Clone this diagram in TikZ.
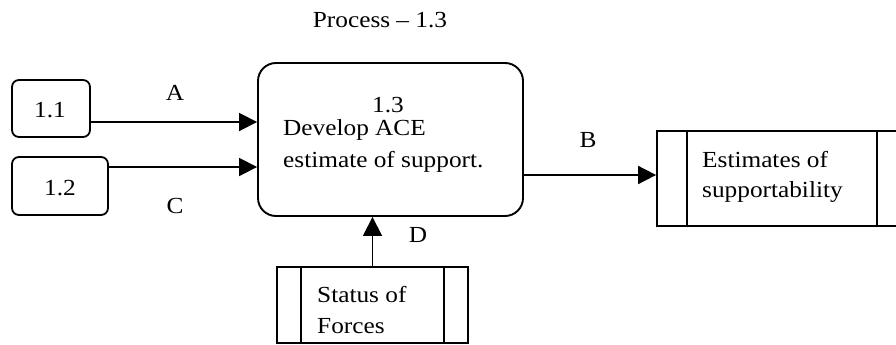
\documentclass[tikz,border=0pt]{standalone}
\usepackage{fontspec}
\setmainfont[FakeStretch=1.1]{Liberation Serif}
\usetikzlibrary{arrows.meta}
\begin{document}
\begin{tikzpicture}[x=1pt,y=-1pt,
  every node/.style={font=\fontsize{23}{27}\selectfont, inner sep=0pt},
  extbox/.style={draw, line width=1.8pt, rounded corners=7pt},
  procbox/.style={draw, line width=1.9pt, rounded corners=18pt},
  storebox/.style={draw, line width=1.8pt},
  flow/.style={line width=1.8pt, -{Triangle[length=18pt,width=18pt]}},
  lbl/.style={anchor=base}]
\useasboundingbox (0,0) rectangle (896,345);
% title
\node[lbl] (title) at (380,28) {Process -- 1.3};
% external boxes
\node[extbox, minimum width=78pt, minimum height=57pt] (b11) at (51,108.5) {};
\node[lbl] (t11) at (50,117) {1.1};
\node[extbox, minimum width=96pt, minimum height=58pt] (b12) at (60,186) {};
\node[lbl] (t12) at (60,195) {1.2};
% process box
\node[procbox, minimum width=265pt, minimum height=153pt] (main) at (390.5,139.5) {};
\node[lbl] (t13) at (388,112) {1.3};
\node[anchor=base west] (t13a) at (283,135) {Develop ACE};
\node[anchor=base west] (t13b) at (283,167) {estimate of support.};
% store: estimates
\node[storebox, minimum width=253pt, minimum height=95pt] (est) at (783.5,178.5) {};
\coordinate (estL) at (687,131);
\coordinate (estR) at (877,131);
\draw[line width=1.8pt] (estL) -- (estL |- est.south);
\draw[line width=1.8pt] (estR) -- (estR |- est.south);
\node[anchor=base west] (esta) at (702,167) {Estimates of};
\node[anchor=base west] (estb) at (702,197) {supportability};
% store: status
\node[storebox, minimum width=191pt, minimum height=76pt] (stat) at (372.5,305) {};
\coordinate (statL) at (301,267);
\coordinate (statR) at (444,267);
\draw[line width=1.8pt] (statL) -- (statL |- stat.south);
\draw[line width=1.8pt] (statR) -- (statR |- stat.south);
\node[anchor=base west] (stata) at (317,302) {Status of};
\node[anchor=base west] (statb) at (317,333) {Forces};
% flows
\draw[flow] ([yshift=-13.5pt]b11.east) -- ([yshift=-13.5pt]b11.east -| main.west);
\draw[flow] ([yshift=19pt]b12.east) -- ([yshift=19pt]b12.east -| main.west);
\draw[flow] ([yshift=-35.5pt]main.east) -- ([yshift=-35.5pt]main.east -| est.west);
\draw[line width=1.8pt, -{Triangle[length=19pt,width=19pt]}] (stat.north) -- (stat.north |- main.south);
% labels
\node[lbl] (la) at (175,100) {A};
\node[lbl] (lc) at (175,213) {C};
\node[lbl] (lb) at (588,147) {B};
\node[lbl] (ld) at (418,242) {D};
\end{tikzpicture}
\end{document}
